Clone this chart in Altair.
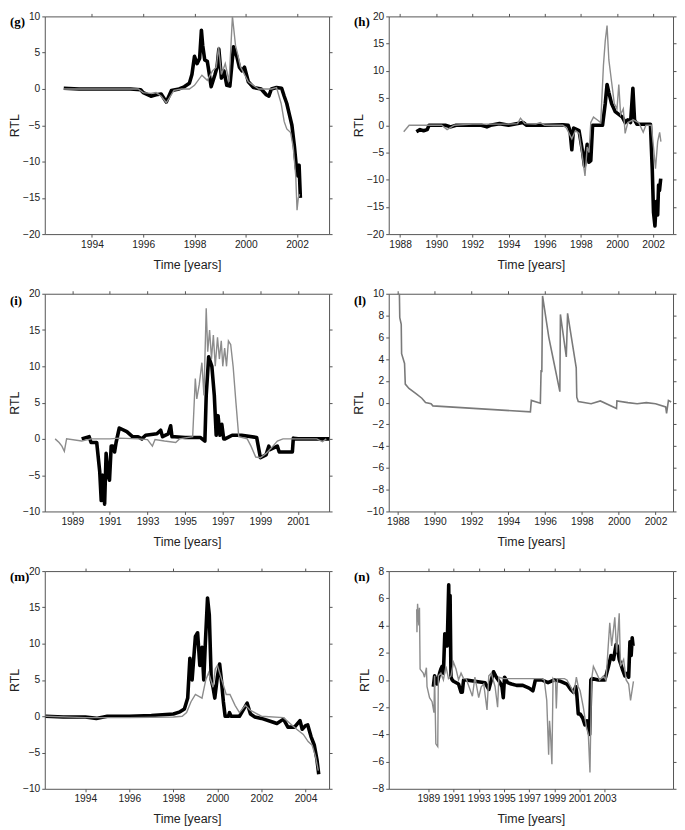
import altair as alt
import pandas as pd

# ---------------- data (time [years], RTL) ----------------
g_black = [(1992.9, 0.1), (1993.5, 0.0), (1994.0, 0.0), (1994.5, 0.0), (1995.0, 0.0), (1995.5, 0.0),
           (1995.9, -0.1), (1996.0, -0.5), (1996.3, -1.0), (1996.5, -0.8), (1996.7, -0.7), (1996.9, -1.8),
           (1997.1, -0.2), (1997.4, 0.0), (1997.6, 0.3), (1997.8, 0.8), (1997.9, 2.0), (1998.0, 4.5),
           (1998.1, 3.5), (1998.2, 4.2), (1998.27, 8.1), (1998.32, 6.0), (1998.4, 4.0), (1998.5, 3.8),
           (1998.58, 2.0), (1998.65, 0.3), (1998.8, 2.0), (1998.88, 3.0), (1998.95, 5.5), (1999.05, 1.5),
           (1999.15, 2.5), (1999.26, 0.5), (1999.38, 0.4), (1999.45, 3.0), (1999.52, 5.8), (1999.65, 4.5),
           (1999.75, 3.0), (1999.85, 2.5), (1999.95, 3.0), (2000.1, 1.0), (2000.3, 0.2), (2000.6, 0.0),
           (2000.8, -0.8), (2000.9, -1.0), (2001.0, 0.0), (2001.2, 0.2), (2001.4, 0.1), (2001.5, -1.0),
           (2001.6, -2.0), (2001.7, -3.5), (2001.8, -5.0), (2001.9, -8.0), (2001.98, -11.0), (2002.03, -12.0),
           (2002.08, -10.5), (2002.13, -15.0)]
g_gray = [(1992.9, 0.0), (1994.0, 0.0), (1995.0, 0.0), (1995.8, 0.0), (1996.0, -0.5), (1996.3, -0.6),
          (1996.5, -0.5), (1996.7, -1.0), (1996.9, -1.9), (1997.2, -0.2), (1997.5, 0.0), (1997.8, 0.0),
          (1998.0, 0.5), (1998.29, 1.9), (1998.5, 1.2), (1998.7, 2.5), (1998.85, 3.0), (1998.94, 5.8),
          (1999.05, 2.0), (1999.2, 3.5), (1999.35, 1.0), (1999.48, 10.0), (1999.6, 6.0), (1999.67, 5.0),
          (1999.8, 3.0), (1999.95, 2.0), (2000.1, 1.0), (2000.3, 0.5), (2000.5, 0.0), (2001.0, 0.0),
          (2001.2, 0.2), (2001.38, -2.0), (2001.5, -4.5), (2001.6, -5.5), (2001.75, -6.0), (2001.85, -8.0),
          (2001.95, -12.0), (2002.0, -16.7), (2002.05, -15.0), (2002.1, -14.5)]

h_black = [(1988.9, -1.2), (1989.1, -0.8), (1989.3, -1.0), (1989.5, -0.8), (1989.6, 0.0), (1990.5, 0.0),
           (1990.8, -0.3), (1991.1, 0.0), (1992.5, 0.0), (1992.8, -0.3), (1993.0, 0.0), (1993.5, 0.3),
           (1994.0, 0.0), (1994.8, 0.5), (1995.0, 0.0), (1996.0, 0.0), (1997.0, 0.1), (1997.3, 0.0),
           (1997.4, -1.0), (1997.5, -4.5), (1997.6, -0.5), (1997.9, -1.0), (1998.1, -5.0), (1998.2, -7.5),
           (1998.35, -3.5), (1998.45, -6.8), (1998.55, -6.5), (1998.65, 0.0), (1999.2, 0.0), (1999.35, 4.0),
           (1999.45, 7.5), (1999.55, 6.0), (1999.7, 4.0), (1999.9, 2.5), (2000.1, 2.0), (2000.3, 1.5),
           (2000.45, 0.5), (2000.6, 1.0), (2000.75, 0.5), (2000.88, 6.8), (2000.97, 1.0), (2001.1, 0.2),
           (2001.85, 0.2), (2001.95, -8.0), (2002.02, -16.0), (2002.1, -18.5), (2002.17, -14.0),
           (2002.25, -16.5), (2002.3, -11.0), (2002.35, -12.0), (2002.42, -9.8)]
h_gray = [(1988.2, -1.2), (1988.5, 0.0), (1989.0, 0.0), (1990.3, 0.0), (1990.6, -0.8), (1991.0, 0.0),
          (1992.0, 0.2), (1993.0, 0.2), (1994.0, 0.2), (1994.5, 0.3), (1994.66, 1.3), (1994.9, 0.3),
          (1995.5, 0.2), (1995.75, 0.5), (1996.0, 0.0), (1997.0, 0.0), (1997.2, -0.5), (1997.5, -2.5),
          (1997.7, -1.0), (1997.9, -1.5), (1998.05, -5.0), (1998.23, -9.3), (1998.35, -4.0), (1998.45, -5.0),
          (1998.55, 0.5), (1998.7, 1.5), (1998.9, 1.0), (1999.1, 0.5), (1999.25, 11.0), (1999.35, 15.5),
          (1999.45, 18.3), (1999.55, 12.0), (1999.7, 8.0), (1999.85, 4.0), (2000.0, 3.0), (2000.1, 7.5),
          (2000.2, 2.0), (2000.35, 3.0), (2000.45, -1.5), (2000.6, 0.5), (2000.9, 1.0), (2001.2, 0.5),
          (2001.45, -1.3), (2001.6, 0.0), (2001.9, 0.0), (2002.02, -4.0), (2002.13, -8.0), (2002.25, -3.0),
          (2002.36, -1.3), (2002.43, -3.0)]

i_black = [(1989.5, 0.0), (1989.9, 0.3), (1990.0, -0.5), (1990.3, -0.5), (1990.46, -4.5), (1990.54, -8.5),
           (1990.62, -5.0), (1990.72, -9.0), (1990.8, -2.0), (1990.9, -5.0), (1990.98, -5.7), (1991.07, -1.0),
           (1991.15, -1.0), (1991.25, -1.8), (1991.33, -0.5), (1991.5, 1.5), (1991.9, 1.0), (1992.2, 0.3),
           (1992.5, 0.3), (1992.7, 0.0), (1992.9, 0.5), (1993.5, 0.7), (1993.7, 1.2), (1993.8, 0.3),
           (1994.1, 0.7), (1994.23, 1.8), (1994.3, 0.3), (1994.45, 0.3), (1995.0, 0.2), (1995.8, 0.2),
           (1996.05, -0.3), (1996.12, 6.0), (1996.25, 11.3), (1996.42, 10.0), (1996.55, 6.0), (1996.65, 0.5),
           (1996.75, 3.2), (1996.85, 0.5), (1996.95, 2.0), (1997.05, 0.0), (1997.12, 0.0), (1997.5, 0.5),
           (1998.0, 0.5), (1998.8, 0.2), (1999.0, -2.6), (1999.3, -2.2), (1999.45, -1.0), (1999.5, -1.5),
           (1999.9, -1.0), (2000.0, -1.8), (2000.7, -1.8), (2000.75, 0.1), (2001.0, 0.0), (2002.7, 0.0)]
i_gray = [(1988.09, 0.0), (1988.3, -0.5), (1988.45, -1.0), (1988.58, -1.7), (1988.7, 0.0), (1989.5, -0.3),
          (1990.0, 0.0), (1991.0, 0.0), (1991.5, 0.1), (1992.5, 0.0), (1993.0, -0.1), (1993.26, -1.0),
          (1993.4, -0.1), (1993.9, -0.3), (1994.5, -0.5), (1994.7, 0.0), (1995.4, 0.3), (1995.54, 8.3),
          (1995.62, 5.5), (1995.75, 7.5), (1995.89, 10.5), (1996.0, 6.0), (1996.12, 18.0), (1996.2, 12.0),
          (1996.3, 15.0), (1996.4, 11.0), (1996.5, 14.3), (1996.6, 10.0), (1996.72, 14.0), (1996.82, 11.0),
          (1996.92, 13.5), (1997.0, 10.0), (1997.1, 12.5), (1997.2, 10.0), (1997.3, 13.5), (1997.42, 13.0),
          (1997.55, 10.0), (1997.7, 5.0), (1997.85, 0.3), (1998.3, 0.0), (1998.5, -1.0), (1998.75, -2.5),
          (1999.0, -2.6), (1999.3, -2.0), (1999.6, -1.2), (1999.9, -0.3), (2000.2, 0.0), (2002.0, 0.0),
          (2002.3, -0.4), (2002.5, 0.0)]

l_gray = [(1988.0, 10.0), (1988.08, 10.0), (1988.1, 7.8), (1988.18, 7.2), (1988.2, 4.5), (1988.36, 3.6),
          (1988.4, 1.7), (1988.6, 1.3), (1989.0, 0.8), (1989.3, 0.4), (1989.5, 0.0), (1989.8, -0.1),
          (1989.9, -0.3), (1995.2, -0.85), (1995.25, 0.2), (1995.74, -0.05), (1995.78, 3.0), (1995.82, 2.8),
          (1995.86, 9.8), (1996.2, 6.0), (1996.5, 3.5), (1996.8, 1.0), (1996.83, 8.1), (1997.15, 4.2),
          (1997.22, 8.2), (1997.69, 3.2), (1997.72, 0.5), (1997.8, 0.1), (1998.5, -0.1), (1999.0, 0.15),
          (1999.88, -0.55), (1999.9, 0.15), (2000.5, 0.0), (2001.0, -0.1), (2001.5, 0.0), (2002.0, -0.1),
          (2002.55, -0.4), (2002.6, -1.0), (2002.7, 0.2), (2002.85, 0.05)]

m_black = [(1992.2, 0.0), (1993.0, -0.1), (1994.0, -0.1), (1994.5, -0.3), (1995.0, 0.0), (1996.0, 0.0),
           (1997.0, 0.1), (1998.0, 0.3), (1998.3, 0.6), (1998.5, 1.0), (1998.65, 2.5), (1998.75, 8.0),
           (1998.85, 5.0), (1999.0, 11.0), (1999.1, 11.5), (1999.2, 7.0), (1999.3, 9.5), (1999.38, 5.0),
           (1999.45, 10.0), (1999.55, 16.3), (1999.63, 14.0), (1999.72, 5.0), (1999.8, 4.0), (1999.88, 2.5),
           (2000.0, 5.5), (2000.1, 7.2), (2000.18, 5.0), (2000.27, 2.0), (2000.35, 0.0), (2000.5, 0.0),
           (2000.55, 0.5), (2000.62, 0.0), (2001.0, 0.0), (2001.1, 0.5), (2001.35, 1.8), (2001.5, 0.3),
           (2001.7, -0.1), (2002.0, -0.3), (2002.5, -0.8), (2002.7, -1.0), (2003.0, -0.4), (2003.2, -1.5),
           (2003.5, -1.5), (2003.75, -0.6), (2003.85, -1.8), (2004.0, -1.3), (2004.1, -1.2), (2004.25, -2.8),
           (2004.4, -4.0), (2004.52, -6.0), (2004.6, -8.0)]
m_gray = [(1992.2, 0.0), (1994.0, -0.2), (1996.0, -0.2), (1998.0, -0.1), (1998.4, 0.0), (1998.6, 0.5),
          (1998.8, 2.0), (1999.0, 3.0), (1999.3, 2.5), (1999.47, 5.0), (1999.6, 6.0), (1999.8, 4.0),
          (1999.9, 6.5), (2000.0, 7.0), (2000.2, 5.0), (2000.4, 3.0), (2000.57, 3.0), (2000.8, 1.5),
          (2001.0, 0.5), (2001.27, 1.5), (2001.5, 0.8), (2002.0, 0.0), (2003.0, -0.2), (2003.3, -1.0),
          (2003.6, -1.8), (2003.9, -2.5), (2004.12, -3.5), (2004.3, -4.0), (2004.45, -5.5), (2004.58, -7.5)]

n_black = [(1989.4, -0.5), (1989.5, 0.3), (1989.7, -0.3), (1989.9, 0.5), (1990.0, 0.8), (1990.1, 1.0),
           (1990.2, 0.5), (1990.31, 3.4), (1990.42, 3.3), (1990.5, 2.5), (1990.62, 7.0), (1990.67, 3.0),
           (1990.73, 6.2), (1990.8, 0.2), (1990.9, 0.0), (1991.0, -0.1), (1991.4, -0.3), (1991.6, -0.9),
           (1991.7, -0.9), (1991.8, 0.0), (1992.0, 0.0), (1993.5, -0.2), (1993.8, -0.7), (1994.0, 0.0),
           (1994.18, 0.6), (1994.4, 0.2), (1994.7, -0.2), (1994.85, -0.5), (1994.95, -1.3), (1995.05, 0.2),
           (1995.3, -0.2), (1995.6, -0.3), (1996.0, -0.4), (1996.5, -0.4), (1997.0, -0.6), (1997.3, -0.8),
           (1997.5, 0.0), (1998.0, 0.0), (1998.5, -0.2), (1999.0, 0.0), (1999.5, -0.1), (2000.0, -0.3),
           (2000.3, -0.7), (2000.52, -0.9), (2000.7, -0.5), (2000.78, -1.0), (2000.9, -2.5), (2001.05, -2.5),
           (2001.25, -2.8), (2001.43, -3.3), (2001.6, -3.0), (2001.7, -3.5), (2001.8, -4.0), (2001.9, 0.0),
           (2002.0, 0.1), (2002.5, 0.0), (2003.0, 0.0), (2003.1, 0.3), (2003.3, 1.0), (2003.5, 1.8),
           (2003.7, 1.5), (2003.9, 2.6), (2004.0, 2.5), (2004.15, 1.5), (2004.4, 0.8), (2004.6, 0.3),
           (2004.8, 0.5), (2004.9, 0.2), (2005.0, 2.8), (2005.1, 1.8), (2005.18, 3.1), (2005.25, 2.5)]
n_gray = [(1988.08, 5.2), (1988.1, 3.5), (1988.15, 5.6), (1988.25, 4.0), (1988.3, 5.3), (1988.35, 0.8),
          (1988.6, 0.5), (1988.7, 0.2), (1988.85, 0.9), (1988.9, -0.5), (1989.1, -1.3), (1989.3, -1.6),
          (1989.45, -2.4), (1989.5, 0.3), (1989.6, -4.7), (1989.75, -4.9), (1989.8, 0.3), (1990.0, 0.5),
          (1990.2, 0.0), (1990.4, 1.0), (1990.6, 0.1), (1990.8, 0.3), (1991.0, 1.3), (1991.2, 0.8),
          (1991.4, 0.0), (1991.6, 0.5), (1991.8, 0.1), (1992.0, 0.1), (1992.5, -1.2), (1992.7, 0.2),
          (1993.0, -1.3), (1993.2, -0.5), (1993.4, -0.3), (1993.66, -2.2), (1993.8, 0.3), (1994.0, 0.5),
          (1994.3, -0.5), (1994.5, -2.0), (1994.6, 0.2), (1995.0, 0.1), (1996.0, 0.1), (1997.0, 0.1),
          (1998.0, 0.1), (1998.2, 0.0), (1998.4, -1.5), (1998.55, -5.5), (1998.62, -3.0), (1998.7, -4.0),
          (1998.81, -6.2), (1998.9, 0.1), (1999.1, -0.2), (1999.16, -2.1), (1999.25, 0.1), (1999.8, 0.1),
          (2000.0, 0.0), (2000.3, -0.5), (2000.55, -1.0), (2000.75, 0.2), (2000.9, -0.5), (2001.05, -0.8),
          (2001.3, -2.0), (2001.55, -3.5), (2001.7, -4.0), (2001.83, -6.8), (2001.95, 0.0), (2002.1, 1.0),
          (2002.35, 0.5), (2002.6, 0.0), (2002.9, 0.3), (2003.1, 0.0), (2003.4, 4.2), (2003.55, 2.5),
          (2003.8, 4.6), (2003.95, 2.0), (2004.15, 4.9), (2004.25, 1.0), (2004.5, 1.5), (2004.7, 0.0),
          (2004.9, -0.3), (2005.05, -1.5), (2005.28, -0.1)]

labels = ["(g)", "(h)", "(i)", "(l)", "(m)", "(n)"]
x_domains = [[1992.16, 2003.25], [1987.37, 2003.1], [1987.54, 2002.65],
             [1987.5, 2002.95], [1992.16, 2005.07], [1985.86, 2008.42]]
x_ticks = [list(range(1994, 2003, 2)), list(range(1988, 2003, 2)), list(range(1989, 2002, 2)),
           list(range(1988, 2003, 2)), list(range(1994, 2005, 2)), list(range(1989, 2004, 2))]
y_domains = [[-20, 10], [-20, 20], [-10, 20], [-10, 10], [-10, 20], [-8, 8]]
y_ticks = [list(range(-20, 11, 5)), list(range(-20, 21, 5)), list(range(-10, 21, 5)),
           list(range(-10, 11, 2)), list(range(-10, 21, 5)), list(range(-8, 9, 2))]
blacks = [g_black, h_black, i_black, None, m_black, n_black]
grays = [g_gray, h_gray, i_gray, l_gray, m_gray, n_gray]
label_dy = [0, 0, 1, 1, 0, 0]

W, H = 286, 219
GRAY = "#8c8c8c"


def make_panel(k):
    xs = alt.Scale(domain=x_domains[k], nice=False, zero=False)
    ys = alt.Scale(domain=y_domains[k], nice=False, zero=False)
    bottom = alt.Axis(orient="bottom", values=x_ticks[k], format="d", title="Time [years]",
                      labelOverlap=False)
    left = alt.Axis(orient="left", values=y_ticks[k], format="d", title="RTL")
    top = alt.Axis(orient="top", values=x_ticks[k], labels=False, title=None)
    right = alt.Axis(orient="right", values=y_ticks[k], labels=False, title=None)

    gdf = pd.DataFrame(grays[k], columns=["t", "v"])
    layers = []
    if blacks[k] is not None:
        bdf = pd.DataFrame(blacks[k], columns=["t", "v"])
        layers.append(alt.Chart(bdf).mark_line(color="black", strokeWidth=3.6, clip=True,
                                               strokeJoin="round").encode(
            x=alt.X("t:Q", scale=xs, axis=bottom), y=alt.Y("v:Q", scale=ys, axis=left)))
        layers.append(alt.Chart(gdf).mark_line(color=GRAY, strokeWidth=1.4, clip=True).encode(
            x=alt.X("t:Q", scale=xs, axis=None), y=alt.Y("v:Q", scale=ys, axis=None)))
    else:
        layers.append(alt.Chart(gdf).mark_line(color="#7a7a7a", strokeWidth=1.6, clip=True).encode(
            x=alt.X("t:Q", scale=xs, axis=bottom), y=alt.Y("v:Q", scale=ys, axis=left)))
    # invisible layer carrying the mirrored top / right tick axes
    layers.append(alt.Chart(gdf).mark_line(strokeOpacity=0, clip=True).encode(
        x=alt.X("t:Q", scale=xs, axis=top), y=alt.Y("v:Q", scale=ys, axis=right)))
    lab = alt.Chart(pd.DataFrame({"s": [labels[k]]})).mark_text(
        font="Liberation Serif", fontWeight="bold", fontSize=13, align="left", baseline="top",
        color="black").encode(text="s:N", x=alt.value(-35), y=alt.value(label_dy[k]))
    layers.append(lab)
    return alt.layer(*layers).properties(width=W, height=H)


panels = [make_panel(k) for k in range(6)]

chart = alt.concat(*panels, columns=2, spacing={"row": 16, "column": 19}).properties(
    padding={"top": 0, "left": 0, "right": 0, "bottom": 0}
).configure_view(stroke="#555", strokeWidth=1, fill=None).configure_axis(
    labelFont="Liberation Sans", labelFontSize=10.3, labelColor="#222",
    titleFont="Liberation Sans", titleFontSize=12.5, titleFontWeight="normal", titleColor="#222",
    grid=False, domain=False, tickSize=3, tickColor="#555", labelPadding=2
).configure_axisX(titlePadding=9).configure_axisY(titlePadding=1)

chart.save("out.html", embed_options={"renderer": "svg", "actions": False})
